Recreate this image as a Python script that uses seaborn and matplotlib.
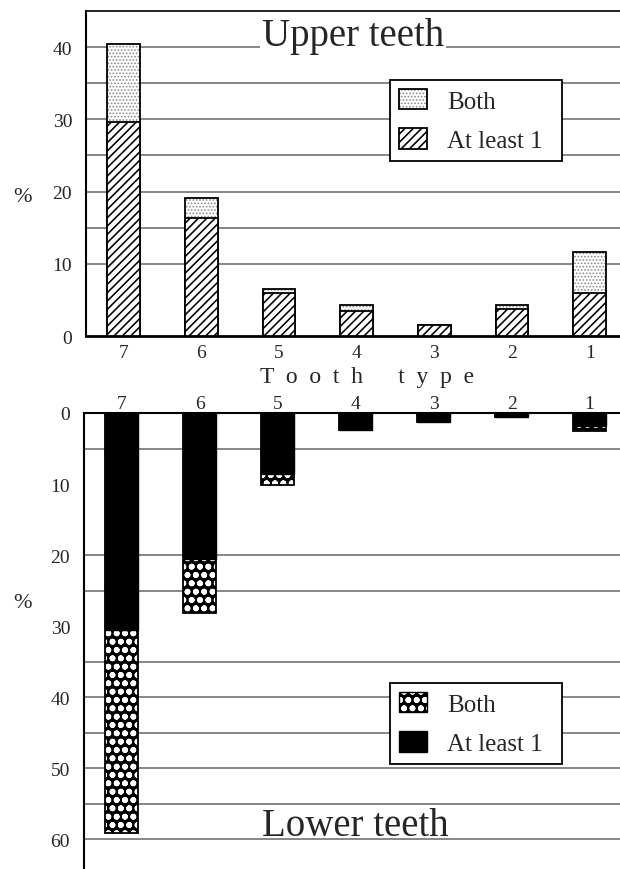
import matplotlib
matplotlib.use('Agg')
import matplotlib.pyplot as plt
from matplotlib.patches import Patch
import seaborn as sns
import pandas as pd

# Data (percent), tooth types 7 -> 1
teeth = ['7', '6', '5', '4', '3', '2', '1']
upper_at_least = [29.7, 16.4, 6.0, 3.4, 1.5, 3.7, 5.9]
upper_both = [10.7, 2.7, 0.5, 0.9, 0.0, 0.6, 5.7]
lower_at_least = [30.5, 20.5, 8.6, 2.4, 1.2, 0.6, 1.8]
lower_both = [28.6, 7.7, 1.5, 0.0, 0.0, 0.0, 0.8]

upper_yticks = [0, 10, 20, 30, 40]
lower_yticks = [0, 10, 20, 30, 40, 50, 60]
upper_grid = [10, 15, 20, 25, 30, 35, 40]
lower_grid = [5, 20, 25, 35, 40, 45, 50, 55, 60]

upper = pd.DataFrame({'tooth': teeth, 'at_least': upper_at_least, 'both': upper_both})
upper['total'] = upper['at_least'] + upper['both']
lower = pd.DataFrame({'tooth': teeth, 'at_least': lower_at_least, 'both': lower_both})
lower['total'] = lower['at_least'] + lower['both']

sns.set_theme(style='white')
plt.rcParams['font.family'] = ['Liberation Serif', 'DejaVu Serif']
plt.rcParams['hatch.linewidth'] = 0.8

W, H = 620, 870
fig = plt.figure(figsize=(6.2, 8.7), dpi=100)
ax_up = fig.add_axes([86 / W, 1 - 337 / H, 1 - 86 / W, 325 / H])
ax_lo = fig.add_axes([84 / W, 0, 1 - 84 / W, 1 - 414 / H])

BW = 0.42
DOT_LW = 1.8     # thick white ring -> white disc on black
DIAG_LW = 1.15   # diagonal hatch of the upper bars


def hatch_lw(artists, lw):
    for p in artists:
        if hasattr(p, 'set_hatch_linewidth'):
            p.set_hatch_linewidth(lw)


leg_kw = dict(loc='upper left', mode='expand', bbox_transform=fig.transFigure,
              fontsize=18, frameon=True, fancybox=False, framealpha=1, borderaxespad=0,
              handlelength=1.12, handleheight=0.88, handletextpad=0.8, labelspacing=0.62,
              borderpad=0.35)

# ---- Upper teeth ----
for g in upper_grid:
    ax_up.axhline(g, color='0.4', lw=1.1, zorder=0.5)
sns.barplot(data=upper, x='tooth', y='total', order=teeth, color='white', saturation=1,
            width=BW, errorbar=None, hatch='.....', edgecolor='0.55', linewidth=0, ax=ax_up, zorder=2)
hatch_lw(ax_up.containers[-1], 0.8)
sns.barplot(data=upper, x='tooth', y='total', order=teeth, color='black', fill=False,
            width=BW, errorbar=None, linewidth=1.3, ax=ax_up, zorder=2.5)
sns.barplot(data=upper, x='tooth', y='at_least', order=teeth, color='white', saturation=1,
            width=BW, errorbar=None, hatch='////', edgecolor='black', linewidth=1.3, ax=ax_up, zorder=3)
hatch_lw(ax_up.containers[-1], DIAG_LW)

ax_up.set_xlim(-0.485, 6.39)
ax_up.set_ylim(0, 45)
ax_up.set_yticks(upper_yticks)
ax_up.set_xlabel('')
ax_up.set_ylabel('')
ax_up.tick_params(axis='y', length=0, pad=10, labelsize=14)
ax_up.tick_params(axis='x', length=0, pad=6, labelsize=14)
ax_up.spines['right'].set_visible(False)
ax_up.spines['left'].set_linewidth(1.5)
ax_up.spines['bottom'].set_linewidth(2)
ax_up.spines['top'].set_linewidth(1.2)
for s in ax_up.spines.values():
    s.set_color('black')
ax_up.text(0.5, 0.895, 'Upper teeth', transform=ax_up.transAxes, ha='center', va='baseline',
           fontsize=28, zorder=4, bbox=dict(facecolor='white', edgecolor='none', pad=1))

up_handles = [
    (Patch(facecolor='white', edgecolor='0.55', hatch='.....', linewidth=0),
     Patch(facecolor='none', edgecolor='black', linewidth=1.3)),
    Patch(facecolor='white', edgecolor='black', hatch='////', linewidth=1.3),
]
leg = ax_up.legend(up_handles, ['Both', 'At least 1'],
                   bbox_to_anchor=(390 / W, 1 - 159 / H, 172 / W, 78 / H), **leg_kw)
leg.get_frame().set_edgecolor('black')
leg.get_frame().set_linewidth(1.3)
leg.set_zorder(5)
hatch_lw([p for p in leg.findobj(Patch) if p.get_hatch() == '////'], DIAG_LW)

# ---- Lower teeth ----
for g in lower_grid:
    ax_lo.axhline(g, color='0.4', lw=1.1, zorder=0.5)
sns.barplot(data=lower, x='tooth', y='total', order=teeth, color='black', saturation=1,
            width=BW, errorbar=None, hatch='oo', edgecolor='white', linewidth=0, ax=ax_lo, zorder=2)
hatch_lw(ax_lo.containers[-1], DOT_LW)
sns.barplot(data=lower, x='tooth', y='total', order=teeth, color='black', fill=False,
            width=BW, errorbar=None, linewidth=1.3, ax=ax_lo, zorder=2.5)
sns.barplot(data=lower, x='tooth', y='at_least', order=teeth, color='black', saturation=1,
            width=BW, errorbar=None, edgecolor='black', linewidth=1.0, ax=ax_lo, zorder=3)

ax_lo.set_xlim(-0.485, 6.39)
ax_lo.set_ylim(64.2, 0)
ax_lo.set_yticks(lower_yticks)
ax_lo.set_xlabel('')
ax_lo.set_ylabel('')
ax_lo.xaxis.tick_top()
ax_lo.tick_params(axis='x', top=True, labeltop=True, bottom=False, labelbottom=False,
                  length=0, pad=1, labelsize=14)
ax_lo.tick_params(axis='y', length=0, pad=10, labelsize=14)
ax_lo.spines['right'].set_visible(False)
ax_lo.spines['bottom'].set_visible(False)
ax_lo.spines['left'].set_linewidth(1.5)
ax_lo.spines['top'].set_linewidth(1.5)
for s in ax_lo.spines.values():
    s.set_color('black')
ax_lo.text(0.507, 0.075, 'Lower teeth', transform=ax_lo.transAxes, ha='center', va='baseline',
           fontsize=28, zorder=4)

lo_handles = [
    (Patch(facecolor='black', edgecolor='white', hatch='oo', linewidth=0),
     Patch(facecolor='none', edgecolor='black', linewidth=1.0)),
    Patch(facecolor='black', edgecolor='black', linewidth=1.0),
]
leg2 = ax_lo.legend(lo_handles, ['Both', 'At least 1'],
                    bbox_to_anchor=(390 / W, 1 - 763 / H, 172 / W, 79 / H), **leg_kw)
leg2.get_frame().set_edgecolor('black')
leg2.get_frame().set_linewidth(1.3)
leg2.set_zorder(5)
hatch_lw([p for p in leg2.findobj(Patch) if p.get_hatch() == 'oo'], DOT_LW)

# shared labels
fig.text(22 / W, 1 - 197 / H, '%', fontsize=16, ha='center', va='center')
fig.text(22 / W, 1 - 603 / H, '%', fontsize=16, ha='center', va='center')
fig.text(367 / W, 1 - 378 / H, 'T  o  o  t  h      t  y  p  e', fontsize=17, ha='center', va='center')

fig.savefig('out.png', dpi=100)
